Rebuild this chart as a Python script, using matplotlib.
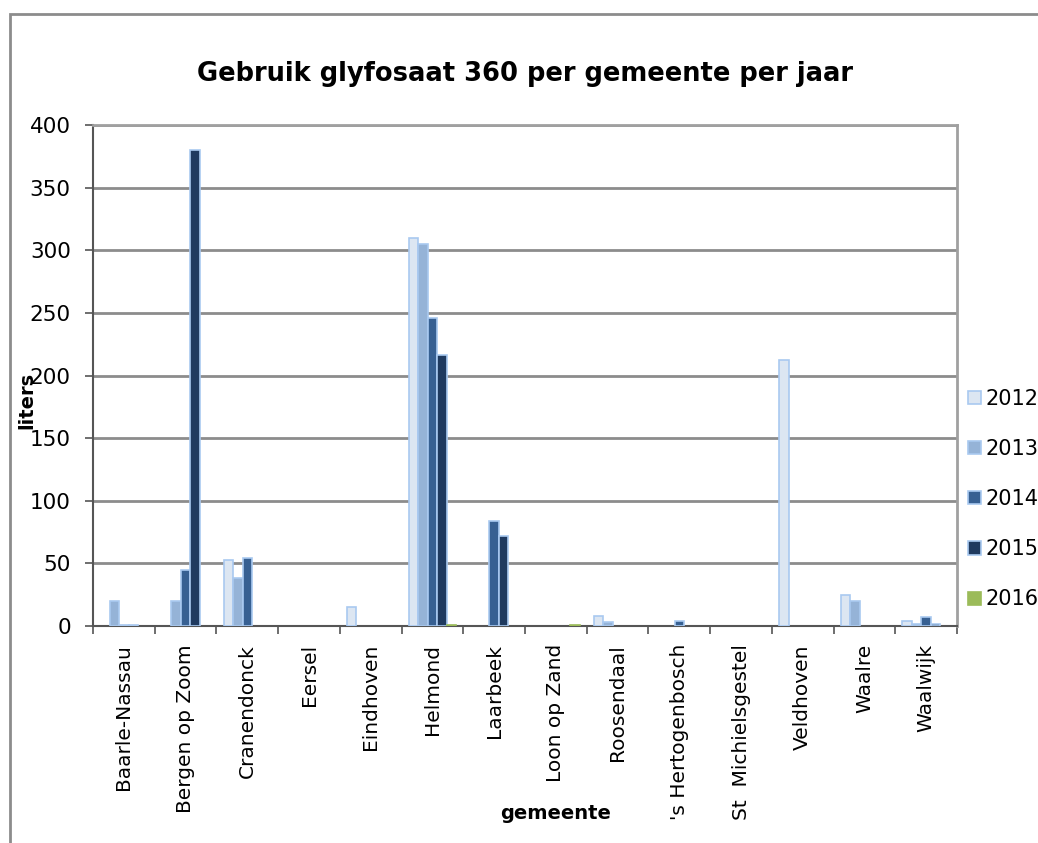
import numpy as np
import matplotlib
matplotlib.use("Agg")
import matplotlib.pyplot as plt
from matplotlib.patches import Rectangle

gemeenten = ["Baarle-Nassau", "Bergen op Zoom", "Cranendonck", "Eersel",
             "Eindhoven", "Helmond", "Laarbeek", "Loon op Zand", "Roosendaal",
             "'s Hertogenbosch", "St  Michielsgestel", "Veldhoven", "Waalre",
             "Waalwijk"]
jaren = ["2012", "2013", "2014", "2015", "2016"]

# liters per gemeente, one list per year
v2012 = [0, 0, 53, 0, 15, 310, 0, 0, 8, 0, 0, 212, 25, 4]
v2013 = [20, 20, 38, 0, 0, 305, 0, 0, 3, 0, 0, 0, 20, 2]
v2014 = [1, 45, 54, 0, 0, 246, 84, 0, 0, 4, 0, 0, 0, 7]
v2015 = [1, 380, 0, 0, 0, 216, 72, 0, 0, 0, 0, 0, 0, 2]
v2016 = [0, 0, 0, 0, 0, 1, 0, 1, 0, 0, 0, 0, 0, 0]

kleuren = ["#dce6f2", "#95b3d7", "#376092", "#1f3a5f", "#9bbb59"]


def main():
    fig = plt.figure(figsize=(10.38, 8.43), dpi=100)
    ax = fig.add_axes([0.0896, 0.2574, 0.8324, 0.5943])

    reeksen = [v2012, v2013, v2014, v2015, v2016]
    x = np.arange(len(gemeenten))
    w = 1 / 6.5
    for i, (jaar, vals, kleur) in enumerate(zip(jaren, reeksen, kleuren)):
        vals = np.array(vals, dtype=float)
        keep = vals > 0  # empty cells get no bar
        edge = "#a9c9f0" if i < 4 else "#9bbb59"
        ax.bar(x[keep] + (i - 2) * w, vals[keep], w, color=kleur,
               edgecolor=edge, linewidth=1.2, label=jaar, zorder=3)

    ax.set_xlim(-0.5, len(gemeenten) - 0.5)
    ax.set_ylim(0, 400)
    ax.set_yticks(np.arange(0, 401, 50))
    ax.yaxis.grid(True, color="#8c8c8c", linewidth=2, zorder=0)

    # category labels at centers, tick marks on boundaries
    ax.set_xticks(x)
    ax.set_xticklabels(gemeenten, rotation=90, fontsize=14.5, va="top")
    ax.tick_params(axis="x", which="major", length=0, pad=13)
    ax.set_xticks(np.arange(-0.5, len(gemeenten), 1), minor=True)
    ax.tick_params(axis="x", which="minor", length=6, width=1.2,
                   color="#555555")
    ax.tick_params(axis="y", length=6, width=1.2, color="#555555",
                   labelsize=15.5, pad=10)

    for s in ["top", "right"]:
        ax.spines[s].set_color("#a0a0a0")
        ax.spines[s].set_linewidth(2)
    for s in ["left", "bottom"]:
        ax.spines[s].set_color("#555555")
        ax.spines[s].set_linewidth(1.5)

    ax.set_title("Gebruik glyfosaat 360 per gemeente per jaar",
                 fontsize=18.5, fontweight="bold", pad=32)
    ax.set_xlabel("gemeente", fontsize=14, fontweight="bold")
    ax.xaxis.set_label_coords(0.535, -0.355)
    ax.set_ylabel("liters", fontsize=14, fontweight="bold")
    ax.yaxis.set_label_coords(-0.066, 0.45)

    fig.legend(loc="center left", bbox_to_anchor=(0.925, 0.408), frameon=False,
               fontsize=15, handlelength=0.6, handleheight=0.6,
               handletextpad=0.2, labelspacing=1.45, borderaxespad=0)

    # outer chart frame
    fig.patches.append(Rectangle((10 / 1038, -0.1), 1.2, 1.1 - 14 / 843,
                                 transform=fig.transFigure, fill=False,
                                 edgecolor="#8c8c8c", linewidth=2))

    fig.savefig("out.png", dpi=100)


if __name__ == "__main__":
    main()
